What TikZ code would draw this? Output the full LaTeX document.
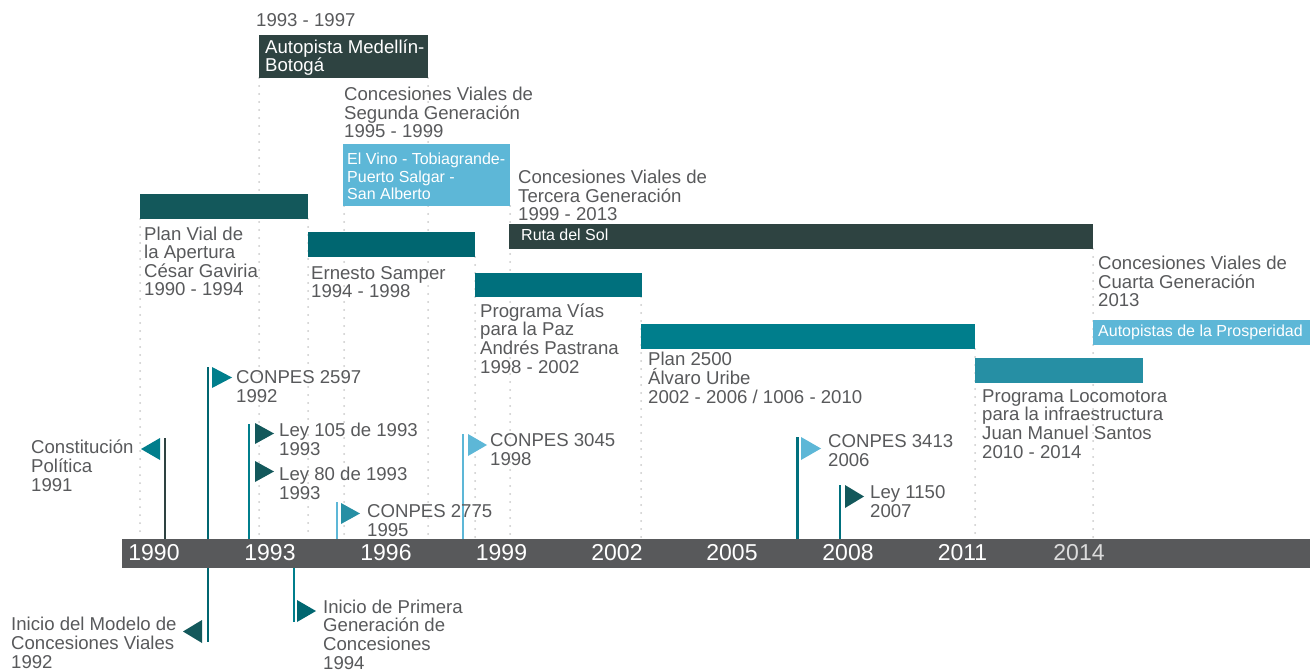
\documentclass[tikz,border=0pt]{standalone}
\usepackage{fontspec}
\setmainfont{Liberation Sans}
\definecolor{cDark}{HTML}{2E4341}
\definecolor{cTa}{HTML}{13585B}
\definecolor{cTb}{HTML}{006670}
\definecolor{cTc}{HTML}{00707D}
\definecolor{cTd}{HTML}{007E8C}
\definecolor{cTe}{HTML}{268FA4}
\definecolor{cLB}{HTML}{5DB7D7}
\definecolor{cAxis}{HTML}{58595B}
\definecolor{cTxt}{HTML}{58595B}
\definecolor{cDot}{HTML}{C8C8C8}
\definecolor{cFaint}{HTML}{DCDCDC}
\begin{document}
\begin{tikzpicture}[x=1pt,y=-1pt,
  lbl/.style={inner sep=0pt, anchor=base west, align=left, text=cTxt, font=\fontsize{18.6}{18.6}\selectfont},
  blbl/.style={inner sep=0pt, anchor=base west, align=left, text=white, font=\fontsize{16}{17.5}\selectfont},
  wlbl/.style={inner sep=0pt, anchor=base west, align=left, text=white, font=\fontsize{18.6}{18}\selectfont},
  yr/.style={inner sep=0pt, anchor=base, text=white, font=\fontsize{23}{23}\selectfont},
  dotline/.style={draw=cDot, line width=2pt, line cap=round, dash pattern=on 0pt off 8pt},
  pole/.style={line width=2.8pt},
]
\useasboundingbox (0,0) rectangle (1310,671);

% dotted guide lines
\foreach \x/\a in {140/219, 259/78, 308/219, 344/206, 428/78, 475/257, 510/206, 641/297, 975/349, 1093/249}
  \draw[dotline] (\x,\a) -- (\x,537);

% bars
\fill[cDark] (259,35) rectangle (428,78);
\fill[cLB] (343,144) rectangle (510,206);
\fill[cTa] (140,194) rectangle (308,219);
\fill[cTb] (308,232) rectangle (475,257);
\fill[cDark] (509,224) rectangle (1093,249);
\fill[cTc] (475,273) rectangle (642,297);
\fill[cTd] (641,324) rectangle (975,349);
\fill[cTe] (975,358) rectangle (1143,383);
\fill[cLB] (1093,320) rectangle (1310,345);

% bar texts (anchored at baseline of last line)
\node[wlbl] (autopista) at (265,72) {Autopista Medellín-\\Botogá};
\node[blbl] (elvino) at (347,200) {El Vino - Tobiagrande-\\Puerto Salgar -\\San Alberto};
\node[blbl] (ruta) at (521,241) {Ruta del Sol};
\node[blbl] (prosp) at (1098,337) {Autopistas de la Prosperidad};

% period labels
\node[lbl] (l9397) at (256,27) {1993 - 1997};
\node[lbl] (segunda) at (344,138) {Concesiones Viales de\\Segunda Generación\\1995 - 1999};
\node[lbl] (planvial) at (144,296) {Plan Vial de\\la Apertura\\César Gaviria\\1990 - 1994};
\node[lbl] (samper) at (311,298) {Ernesto Samper\\1994 - 1998};
\node[lbl] (pastrana) at (480,373) {Programa Vías\\para la Paz\\Andrés Pastrana\\1998 - 2002};
\node[lbl] (tercera) at (518,221) {Concesiones Viales de\\Tercera Generación\\1999 - 2013};
\node[lbl] (uribe) at (648,403) {Plan 2500\\Álvaro Uribe\\2002 - 2006 / 1006 - 2010};
\node[lbl] (cuarta) at (1098,307) {Concesiones Viales de\\Cuarta Generación\\2013};
\node[lbl] (santos) at (982,458) {Programa Locomotora\\para la infraestructura\\Juan Manuel Santos\\2010 - 2014};

% poles
\draw[pole, cDark] (165,438) -- (165,539);
\draw[pole, cTb] (208,367) -- (208,642);
\draw[pole, cTd] (249,424) -- (249,539);
\draw[pole, cTd] (294,568) -- (294,622);
\draw[pole, cLB] (337,502) -- (337,539);
\draw[pole, cLB] (463,434) -- (463,539);
\draw[pole, cTc] (797.5,437) -- (797.5,539);
\draw[pole, cTc] (840,485) -- (840,539);

% flags
\fill[cTd] (160,438) -- (141,449) -- (160,460) -- cycle;
\fill[cTd] (212,367) -- (232,377.5) -- (212,388) -- cycle;
\fill[cTa] (202,620) -- (183,631.5) -- (202,643) -- cycle;
\fill[cTa] (255,423) -- (274,433.5) -- (255,444) -- cycle;
\fill[cTa] (255,461) -- (274,471.5) -- (255,482) -- cycle;
\fill[cTb] (297,600) -- (316,611) -- (297,622) -- cycle;
\fill[cTe] (341,503) -- (360,513.5) -- (341,524) -- cycle;
\fill[cLB] (468,434) -- (487,445) -- (468,456) -- cycle;
\fill[cLB] (801,437) -- (821,448.5) -- (801,460) -- cycle;
\fill[cTa] (845,485) -- (864,496.5) -- (845,508) -- cycle;

% event labels
\node[lbl] (constit) at (31,491) {Constitución\\Política\\1991};
\node[lbl] (inimod) at (11,668) {Inicio del Modelo de\\Concesiones Viales\\1992};
\node[lbl] (c2597) at (236,402) {CONPES 2597\\1992};
\node[lbl] (ley105) at (279,455) {Ley 105 de 1993\\1993};
\node[lbl] (ley80) at (279,499) {Ley 80 de 1993\\1993};
\node[lbl] (iniprim) at (323,669) {Inicio de Primera\\Generación de\\Concesiones\\1994};
\node[lbl] (c2775) at (367,536) {CONPES 2775\\1995};
\node[lbl] (c3045) at (490,465) {CONPES 3045\\1998};
\node[lbl] (c3413) at (828,466) {CONPES 3413\\2006};
\node[lbl] (ley1150) at (870,517) {Ley 1150\\2007};

% axis
\fill[cAxis] (122,539) rectangle (1310,568);
\foreach \x/\y in {154/1990, 270/1993, 386/1996, 501.5/1999, 617/2002, 732/2005, 848/2008, 962.5/2011}
  \node[yr] (y\y) at (\x,560) {\y};
\node[yr, text=cFaint] (y2014) at (1079,560) {2014};
\end{tikzpicture}
\end{document}
